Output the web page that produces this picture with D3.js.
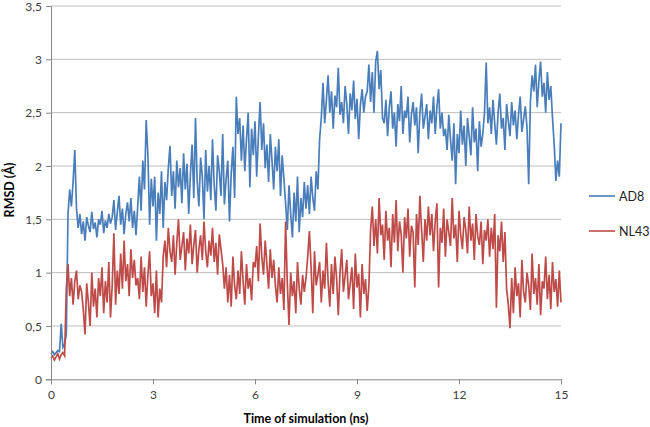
<!DOCTYPE html>
<html>
<head>
<meta charset="utf-8">
<script src="https://cdn.jsdelivr.net/npm/d3@7"></script>
<style>
  body { margin: 0; background: #fff; }
  svg { display: block; font-family: Lato, "Open Sans", sans-serif; }
</style>
</head>
<body>
<svg id="chart" width="650" height="427"></svg>
<script>
// Time step of the samples (ns) and axis ticks
const timeStep = 0.05;
const xTicks = [0, 3, 6, 9, 12, 15];
const yTicks = [0, 0.5, 1, 1.5, 2, 2.5, 3, 3.5];
const seriesNames = ["AD8", "NL43"];

// RMSD (Å) for AD8, one value every 0.05 ns from 0 to 15 ns
const ad8 = [
  0.24,0.26,0.23,0.25,0.27,0.26,0.52,0.30,0.33,0.42,
  1.55,1.78,1.62,1.85,2.15,1.60,
  1.42,1.55,1.36,1.48,1.30,1.52,1.44,1.38,1.57,1.41,1.47,1.33,1.50,1.45,1.58,1.37,1.49,1.42,1.55,1.46,
  1.52,1.68,1.40,1.57,1.72,1.45,1.60,1.36,1.55,1.66,1.48,1.70,1.42,1.58,
  1.35,1.62,1.90,1.58,2.05,1.78,2.43,2.10,
  1.45,1.88,1.62,1.90,
  1.30,1.75,1.55,1.95,1.42,1.85,1.68,1.98,
  2.19,1.72,1.95,1.60,2.05,1.80,
  1.98,1.65,2.12,1.78,2.02,1.55,1.92,2.20,1.70,2.45,1.85,1.62,2.08,1.90,1.50,2.15,1.76,2.00,1.68,2.25,1.82,1.58,2.10,1.95,1.72,2.30,1.64,1.88,2.05,1.48,1.93,2.18,1.70,
  2.65,2.30,2.45,2.05,2.38,1.95,2.25,2.50,1.80,2.35,2.10,2.42,1.90,2.28,2.60,2.15,2.40,1.98,
  2.20,1.85,2.30,2.05,1.78,2.18,1.95,2.25,1.72,2.10,1.88,
  1.65,1.40,1.82,1.55,1.33,1.75,1.48,1.90,1.38,1.70,1.52,1.85,
  1.60,1.82,1.55,1.90,1.70,1.58,1.95,1.78,2.25,
  2.45,2.78,2.40,2.62,2.85,2.50,2.70,2.35,2.66,2.55,2.92,2.48,2.60,2.40,2.75,2.58,2.30,2.68,2.52,2.80,2.44,2.63,2.25,2.57,2.72,2.50,2.65,
  2.70,2.95,2.60,2.88,2.50,2.98,3.08,2.72,2.90,2.45,
  2.40,2.62,2.28,2.55,2.70,2.35,2.50,2.18,2.58,2.42,2.75,2.30,2.52,2.45,2.65,2.22,2.48,2.60,2.38,2.55,2.12,2.50,2.68,2.35,2.46,2.58,2.25,2.52,
  2.40,2.65,2.30,2.55,2.72,2.35,2.50,2.28,
  2.35,2.15,2.48,2.25,2.05,2.40,1.83,2.30,2.12,2.52,2.20,2.38,2.00,2.45,2.28,2.10,2.55,2.22,2.35,1.95,2.42,2.18,2.30,2.50,
  2.97,2.40,
  2.55,2.30,2.62,2.40,2.20,2.50,2.68,2.35,2.45,2.15,2.58,2.42,2.28,2.60,2.38,2.52,2.25,2.48,2.65,2.32,2.44,2.56,2.36,
  1.83,
  2.60,2.85,2.70,2.95,2.55,2.80,2.98,2.65,2.78,2.50,2.88,2.62,2.75,2.45,
  2.20,1.86,2.05,1.90,2.40
];

// RMSD (Å) for NL43, one value every 0.05 ns from 0 to 15 ns
const nl43 = [
  0.20,0.22,0.18,0.21,0.24,0.19,0.23,0.25,0.22,
  0.85,
  1.08,0.78,0.95,0.70,0.92,1.02,0.75,0.88,
  0.82,0.65,0.42,0.90,0.72,0.50,1.00,0.68,0.85,0.58,0.95,
  0.78,1.05,0.62,0.92,0.72,1.10,0.58,0.88,1.37,0.70,1.02,0.80,
  1.18,0.85,1.30,0.92,1.08,0.78,1.22,0.95,1.12,0.88,
  0.95,0.75,1.15,0.82,1.05,0.68,0.98,1.20,0.78,0.90,0.62,1.02,0.58,0.85,0.72,
  1.15,1.30,1.05,1.42,1.20,1.10,1.35,0.98,1.28,1.50,1.12,1.25,1.38,1.02,1.32,1.18,1.45,1.08,1.26,1.40,1.00,1.22,1.35,1.12,1.48,1.20,1.05,1.30,1.16,1.42,1.10,1.28,0.98,1.36,1.22,1.08,
  0.85,1.05,0.72,0.98,0.68,1.15,0.88,0.75,1.02,0.80,1.20,0.92,0.70,1.08,0.85,0.95,0.74,1.10,
  1.05,1.25,0.92,1.46,1.15,0.98,1.30,1.08,0.85,1.22,0.95,1.12,
  0.88,0.72,1.05,0.80,0.95,0.65,1.48,0.90,0.51,1.00,0.78,0.92,0.62,1.10,0.85,0.70,0.98,0.82,
  0.95,1.15,1.39,1.05,0.62,1.20,0.88,0.98,1.10,0.72,1.02,0.85,1.28,0.92,0.68,1.08,0.80,1.15,0.95,0.60,1.00,1.22,0.82,0.97,1.12,0.75,0.90,1.05,0.66,1.18,0.86,0.99,0.58,1.08,0.80,0.94,0.64,0.88,
  1.40,1.62,1.25,1.50,1.18,1.70,1.35,1.45,1.12,1.58,1.30,1.42,1.05,1.55,1.28,1.68,1.20,1.48,1.36,1.00,1.52,1.32,1.60,1.15,1.44,1.38,0.86,1.55,1.26,1.72,1.40,1.10,1.50,1.30,1.62,
  1.35,1.55,1.20,1.48,1.65,0.86,1.42,1.28,1.60,1.15,1.50,1.38,1.25,1.70,1.32,1.45,1.10,1.58,1.36,1.22,1.52,1.40,1.18,1.62,1.30,1.46,1.12,1.55,1.34,1.26,1.48,1.08,1.40,
  1.30,1.50,1.15,1.42,1.22,1.55,0.67,1.35,1.20,1.48,1.10,1.38,
  0.85,0.70,0.48,0.95,0.62,1.05,0.78,0.90,0.58,1.12,0.82,0.72,1.00,0.88,0.65,1.18,0.80,0.95,0.70,1.08,0.60,0.92,0.85,1.15,0.75,0.98,0.66,1.10,0.82,0.94,0.68,1.02,0.72
];

const colors = ["#4A7EBB", "#BE4B48"];
const fmt = d => String(d).replace(".", ",");

const svg = d3.select("#chart");
const plotLeft = 51, plotRight = 561, plotTop = 6, plotBottom = 379.3;

const x = d3.scaleLinear().domain([0, 15]).range([plotLeft, plotRight]);
const y = d3.scaleLinear().domain([0, 3.5]).range([plotBottom, plotTop]);

// gridlines
svg.append("g")
  .selectAll("line")
  .data(yTicks.filter(d => d > 0))
  .join("line")
  .attr("x1", plotLeft).attr("x2", plotRight)
  .attr("y1", d => y(d)).attr("y2", d => y(d))
  .attr("stroke", "#BEBEBE").attr("stroke-width", 1);

// lines
const line = d3.line()
  .x((d, i) => x(i * timeStep))
  .y(d => y(d));

[ad8, nl43].forEach((s, k) => {
  svg.append("path")
    .datum(s)
    .attr("fill", "none")
    .attr("stroke", colors[k])
    .attr("stroke-width", 1.7)
    .attr("stroke-linejoin", "miter")
    .attr("d", line);
});

// axes
const yAxis = d3.axisLeft(y).tickValues(yTicks).tickFormat(fmt).tickSize(5).tickPadding(4);
const xAxis = d3.axisBottom(x).tickValues(xTicks).tickFormat(fmt).tickSize(5).tickPadding(6);

const gy = svg.append("g").attr("transform", `translate(${plotLeft},0)`).call(yAxis);
const gx = svg.append("g").attr("transform", `translate(0,${plotBottom})`).call(xAxis);

[gx, gy].forEach(g => {
  g.select(".domain").attr("stroke", "#888");
  g.selectAll(".tick line").attr("stroke", "#888");
  g.selectAll(".tick text").attr("fill", "#404040").style("font-size", "12px")
    .style("font-family", "Lato, 'Open Sans', sans-serif");
});
gy.selectAll(".tick text").attr("dy", "0.36em");

// axis titles
svg.append("text")
  .attr("x", (plotLeft + plotRight) / 2).attr("y", 423)
  .attr("text-anchor", "middle")
  .attr("font-weight", "bold").attr("font-size", 12.5).attr("fill", "#000")
  .text("Time of simulation (ns)");

svg.append("text")
  .attr("transform", "translate(14,190) rotate(-90)")
  .attr("text-anchor", "middle")
  .attr("font-weight", "bold").attr("font-size", 12.5).attr("fill", "#000")
  .text("RMSD (Å)");

// legend
const legend = svg.append("g");
seriesNames.forEach((name, k) => {
  const ly = 196 + k * 35;
  legend.append("line")
    .attr("x1", 589).attr("x2", 615).attr("y1", ly).attr("y2", ly)
    .attr("stroke", colors[k]).attr("stroke-width", 1.6);
  legend.append("text")
    .attr("x", 619).attr("y", ly + 4.5)
    .attr("font-size", 12.5).attr("fill", "#222")
    .text(name);
});
</script>
</body>
</html>
